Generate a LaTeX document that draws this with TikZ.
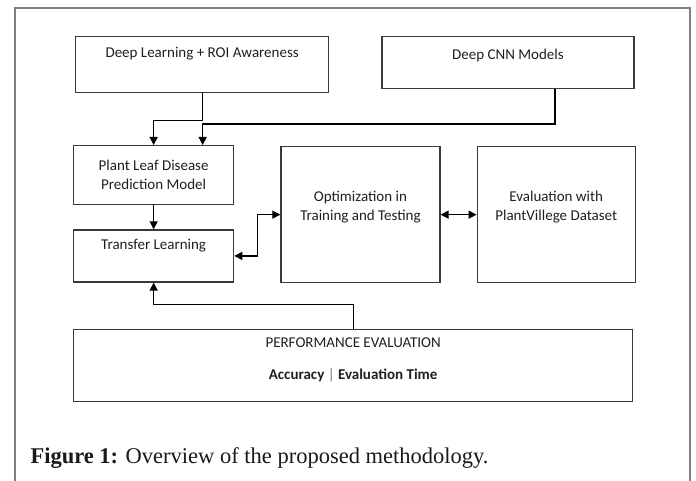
\documentclass[tikz,border=0pt]{standalone}
\usepackage{fontspec}
\setmainfont{Liberation Serif}
\newfontfamily\boxfont{Carlito}
\usepackage{xcolor}
\usetikzlibrary{arrows.meta, positioning, calc}

\begin{document}
\begin{tikzpicture}[
    x=1pt, y=-1pt,
    box/.style={rectangle, draw=black!78, line width=1.3pt, inner sep=0pt, align=center, text=black!88, font=\boxfont\fontsize{15}{19}\selectfont},
    arrow/.style={-{Triangle[length=8pt,width=8pt]}, line width=1.3pt},
    dblarrow/.style={{Triangle[length=8pt,width=8pt]}-{Triangle[length=8pt,width=8pt]}, line width=1.3pt},
    frame/.style={draw=black!50, line width=1.8pt},
    caption/.style={anchor=west, text=black!90, font=\fontsize{22.5}{27}\selectfont}
]
\useasboundingbox (0,0) rectangle (696,481);

\draw[frame] (15,481) -- (15,8) -- (690,8) -- (690,481);

\node[box, anchor=north west, minimum width=253pt, minimum height=56pt, text height=21pt, text depth=35pt] (roi) at (75,36) {Deep Learning + ROI Awareness};
\node[box, below right=0pt and 52pt of roi.north east, minimum width=252pt, minimum height=52pt, text height=23pt, text depth=29pt] (cnn) {Deep CNN Models};

\node[box, anchor=north west, minimum width=160pt, minimum height=59pt] (plant) at (73,145) {Plant Leaf Disease\\Prediction Model};
\node[box, below=24pt of plant, minimum width=160pt, minimum height=52pt, text height=20pt, text depth=32pt] (transfer) {Transfer Learning};

\node[box, below right=1pt and 46pt of plant.north east, minimum width=159pt, minimum height=136pt, text depth=17pt] (optim) {Optimization in\\Training and Testing};
\node[box, right=36pt of optim, minimum width=158pt, minimum height=136pt, text depth=17pt] (evalset) {Evaluation with\\PlantVillege Dataset};

\node[box, below right=46pt and 0pt of transfer.south west, minimum width=559pt, minimum height=72pt, text depth=14pt] (perf) {PERFORMANCE EVALUATION\\[13pt]\textbf{Accuracy} {\color{black!55}|} \textbf{Evaluation Time}};

\draw[arrow] (roi.south) -- ++(0,27) -| (plant.north);
\draw[arrow] ($(cnn.south)+(47,0)$) |- ($(plant.north)+(49,-21)$) -- ($(plant.north)+(49,0)$);
\draw[arrow] (plant) -- (transfer);
\draw[dblarrow] (transfer.east) -- ++(23,0) |- (optim.west);
\draw[dblarrow] (optim) -- (evalset);
\draw[arrow] (perf.north) -- ++(0,-24) -| (transfer.south);

\node[caption] (fig) at (27,458) {\textbf{Figure 1:} Overview of the proposed methodology.};

\end{tikzpicture}
\end{document}
